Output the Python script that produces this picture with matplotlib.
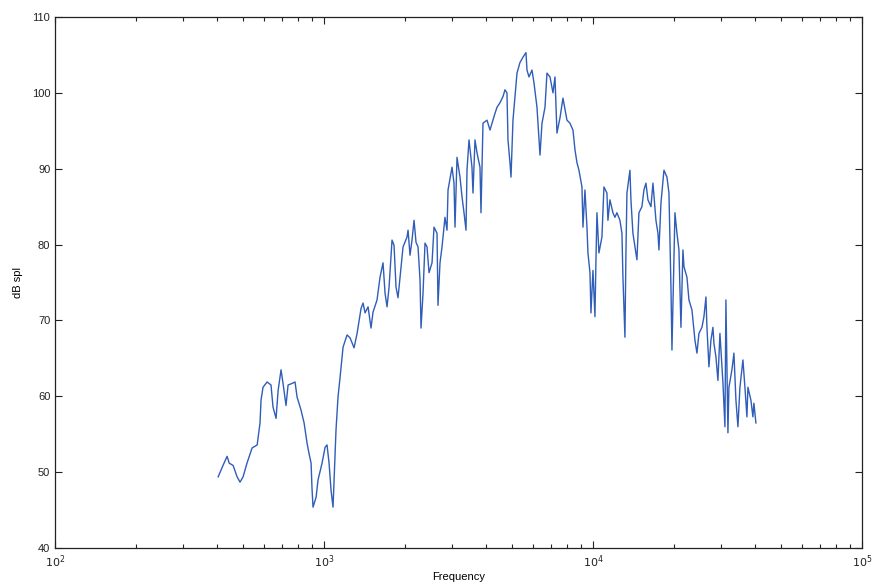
import matplotlib
matplotlib.use("Agg")
import matplotlib.pyplot as plt
from matplotlib.ticker import LogLocator, FixedLocator

# Measured sound pressure level spectrum
freq_hz = [
    404, 421, 436, 444, 459, 475, 487, 500, 517, 540, 564, 578, 583, 593, 614,
    635, 646, 663, 675, 692, 704, 722, 735, 760, 780, 794, 821, 843, 865, 879,
    895, 902, 910, 934, 950, 983, 1009, 1026, 1044, 1062, 1080, 1089, 1108, 1127,
    1147, 1177, 1218, 1250, 1293, 1327, 1373, 1397, 1421, 1458, 1495, 1521, 1574,
    1615, 1657, 1686, 1715, 1745, 1790, 1821, 1852, 1884, 1917, 1967, 2035, 2053,
    2088, 2124, 2161, 2198, 2236, 2275, 2294, 2334, 2374, 2415, 2457, 2521, 2564,
    2631, 2653, 2699, 2746, 2817, 2866, 2891, 2992, 3043, 3069, 3122, 3203, 3259,
    3315, 3372, 3401, 3460, 3549, 3580, 3642, 3705, 3801, 3834, 3900, 4036, 4141,
    4248, 4322, 4397, 4511, 4628, 4708, 4789, 4831, 4914, 4957, 5042, 5129, 5218,
    5353, 5492, 5636, 5684, 5783, 5933, 6036, 6192, 6299, 6354, 6464, 6632, 6745,
    6921, 7102, 7223, 7348, 7539, 7735, 8005, 8212, 8426, 8573, 8720, 8871, 9101,
    9180, 9338, 9499, 9581, 9747, 9830, 10000, 10086, 10172, 10260, 10348, 10525,
    10799, 10986, 11271, 11368, 11564, 11865, 12070, 12279, 12598, 12816, 12926,
    13149, 13263, 13377, 13725, 13843, 14080, 14324, 14571, 14825, 15210, 15473,
    15741, 16013, 16430, 16714, 17148, 17445, 17594, 17902, 18366, 18844, 19169,
    19500, 19668, 20007, 20178, 20527, 20880, 21242, 21609, 21795, 22362, 22749,
    23340, 23541, 23947, 24361, 24782, 25427, 25866, 26313, 26539, 26994, 27460,
    27935, 28175, 28661, 29157, 29660, 30172, 30431, 30957, 31222, 31762, 32035,
    32868, 33436, 34014, 34601, 35199, 36113, 36738, 37372, 37694, 38670, 39338,
    39676, 40360,
]
level_db = [
    49.4, 50.9, 52.1, 51.2, 50.9, 49.4, 48.7, 49.4, 51.2, 53.2, 53.6, 56.5, 59.5,
    61.2, 61.9, 61.5, 58.6, 57.1, 60.8, 63.5, 61.7, 58.8, 61.5, 61.7, 61.9, 59.9,
    58.2, 56.5, 53.8, 52.5, 51.2, 47.9, 45.4, 46.7, 49.0, 51.2, 53.3, 53.6, 51.2,
    47.6, 45.4, 48.6, 55.6, 59.9, 62.5, 66.5, 68.1, 67.7, 66.4, 68.3, 71.6, 72.3,
    71.0, 71.8, 69.0, 71.1, 72.7, 75.7, 77.6, 73.6, 71.8, 74.4, 80.6, 79.9, 74.4,
    73.0, 75.7, 79.7, 81.0, 81.9, 78.6, 80.6, 83.2, 80.3, 79.7, 75.3, 69.0, 73.6,
    80.2, 79.7, 76.3, 77.6, 82.3, 81.5, 72.0, 77.6, 79.7, 83.6, 81.9, 87.2, 90.2,
    88.1, 82.3, 91.5, 88.9, 86.3, 84.2, 81.9, 89.8, 93.8, 90.2, 86.8, 93.8, 92.1,
    90.2, 84.2, 96.0, 96.4, 95.1, 96.4, 97.3, 98.1, 98.7, 99.5, 100.4, 100.0, 93.8,
    90.8, 88.9, 96.4, 99.5, 102.6, 104.0, 104.7, 105.3, 103.0, 102.1, 103.0, 101.3,
    98.1, 93.8, 91.8, 96.0, 98.1, 102.6, 102.1, 100.0, 102.1, 94.7, 96.7, 99.3,
    96.4, 96.0, 95.1, 92.5, 90.8, 89.8, 87.6, 82.3, 87.2, 82.3, 78.9, 76.3, 71.0,
    76.6, 73.6, 70.5, 78.0, 84.2, 78.9, 81.0, 87.6, 86.8, 83.2, 85.9, 84.2, 83.6,
    84.2, 83.2, 81.5, 75.7, 67.8, 78.9, 86.8, 89.8, 85.9, 81.5, 79.7, 78.0, 84.2,
    85.0, 87.2, 88.1, 85.9, 85.0, 88.1, 83.2, 81.5, 79.3, 85.5, 89.8, 88.9, 86.8,
    74.4, 66.1, 78.0, 84.2, 81.5, 79.3, 69.1, 79.3, 77.1, 75.7, 72.7, 71.4, 70.1,
    67.4, 65.7, 68.3, 69.1, 70.5, 73.1, 69.1, 63.9, 67.4, 69.1, 67.0, 65.2, 62.1,
    68.3, 63.9, 61.8, 56.0, 72.7, 55.2, 61.2, 63.5, 65.7, 59.5, 56.0, 61.2, 64.8,
    61.2, 57.3, 61.2, 59.5, 57.3, 59.1, 56.5,
]

x_major = [1e2, 1e3, 1e4, 1e5]
x_major_labels = [r"$10^{2}$", r"$10^{3}$", r"$10^{4}$", r"$10^{5}$"]
y_ticks = [40, 50, 60, 70, 80, 90, 100, 110]

plt.rcParams["font.family"] = ["Liberation Sans", "DejaVu Sans"]

fig = plt.figure(figsize=(8.75, 5.85), dpi=100)
ax = fig.add_axes([0.063, 0.063, 0.922, 0.908])

ax.plot(freq_hz, level_db, color="#2f5db8", linewidth=1.0)

ax.set_xscale("log")
ax.set_xlim(1e2, 1e5)
ax.set_ylim(40, 110)

ax.xaxis.set_major_locator(FixedLocator(x_major))
ax.set_xticklabels(x_major_labels)
ax.xaxis.set_minor_locator(LogLocator(base=10, subs=range(2, 10)))
ax.set_yticks(y_ticks)

ax.tick_params(which="both", direction="in", top=True, right=True,
               labelsize=8, colors="#222222", width=0.8)
ax.tick_params(which="major", length=5)
ax.tick_params(which="minor", length=3)

for s in ax.spines.values():
    s.set_linewidth(0.9)
    s.set_color("#222222")

ax.set_xlabel("Frequency", fontsize=8, labelpad=2)
ax.set_ylabel("dB spl", fontsize=8, labelpad=6)

fig.savefig("out.png", dpi=100, facecolor="white")
